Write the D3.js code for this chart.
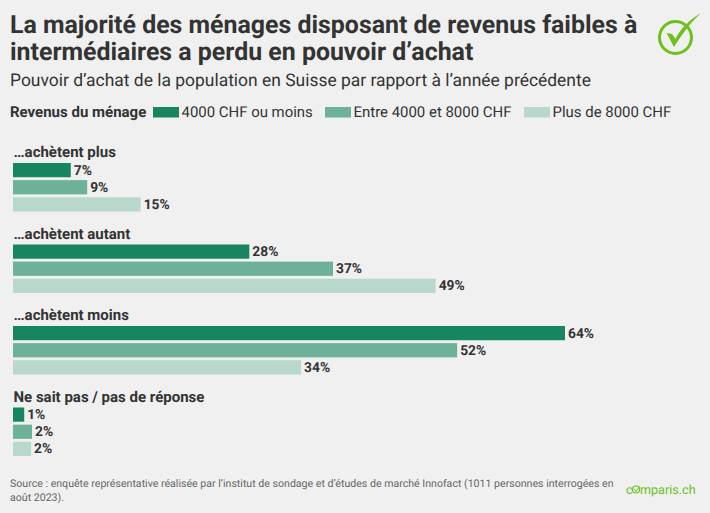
<!DOCTYPE html>
<html>
<head>
<meta charset="utf-8">
<script src="https://cdn.jsdelivr.net/npm/d3@7"></script>
<style>
body { margin: 0; background: #f0f0f0; }
text { font-family: Roboto, sans-serif; text-rendering: geometricPrecision; }
</style>
</head>
<body>
<div id="canvas"></div>
<script>
const categories = ["…achètent plus", "…achètent autant", "…achètent moins", "Ne sait pas / pas de réponse"];
const seriesNames = ["4000 CHF ou moins", "Entre 4000 et 8000 CHF", "Plus de 8000 CHF"];
const lowAll = [6.7, 27.4, 64, 1.3];
const midAll = [8.6, 37.1, 51.5, 2.2];
const highAll = [14.8, 49, 33.4, 2.1];
const labels = [[7, 9, 15], [28, 37, 49], [64, 52, 34], [1, 2, 2]];
const colors = ["#17855f", "#6cb198", "#b7d8ca"];

const width = 710;
const height = 513;
const svg = d3.select("#canvas").append("svg")
    .attr("width", width)
    .attr("height", height)
    .style("display", "block");

svg.append("rect").attr("width", width).attr("height", height).attr("fill", "#f0f0f0");

// titre
const title = svg.append("g").attr("fill", "#333333").attr("font-weight", 700).attr("font-size", 24.9);
title.append("text").attr("x", 10).attr("y", 33).text("La majorité des ménages disposant de revenus faibles à");
title.append("text").attr("x", 10).attr("y", 60).text("intermédiaires a perdu en pouvoir d’achat");
svg.append("text").attr("x", 10).attr("y", 86).attr("font-size", 17.45).attr("fill", "#333333")
    .text("Pouvoir d’achat de la population en Suisse par rapport à l’année précédente");

// legende
svg.append("text").attr("x", 10).attr("y", 117).attr("font-size", 15).attr("font-weight", 700).attr("fill", "#333333")
    .text("Revenus du ménage");
const legendX = [153, 325, 524];
seriesNames.forEach((name, i) => {
  svg.append("rect").attr("x", legendX[i]).attr("y", 107).attr("width", 26).attr("height", 10.5).attr("fill", colors[i]);
  svg.append("text").attr("x", legendX[i] + 28.5).attr("y", 117).attr("font-size", 14.95).attr("fill", "#333333").text(name);
});

// barres
const x = d3.scaleLinear().domain([0, 64]).range([13, 565]);
const yGroup = d3.scalePoint().domain(categories).range([146, 390.5]);
const ySeries = d3.scaleBand().domain(seriesNames).range([17, 65.5]).paddingInner(0.17).paddingOuter(0);
const values = [lowAll, midAll, highAll];

const groups = svg.selectAll("g.group").data(categories).enter().append("g")
    .attr("class", "group")
    .attr("transform", d => `translate(0,${yGroup(d)})`);

groups.append("text").attr("x", 13.5).attr("y", 11).attr("font-size", 15).attr("font-weight", 700).attr("fill", "#333333")
    .text(d => d);

groups.each(function (cat, c) {
  const g = d3.select(this);
  seriesNames.forEach((name, s) => {
    g.append("rect")
      .attr("x", x(0))
      .attr("y", ySeries(name))
      .attr("width", x(values[s][c]) - x(0))
      .attr("height", ySeries.bandwidth())
      .attr("fill", colors[s]);
    g.append("text")
      .attr("x", x(values[s][c]) + 3)
      .attr("y", ySeries(name) + ySeries.bandwidth() / 2 + 4.5)
      .attr("font-size", 13.8)
      .attr("font-weight", 700)
      .attr("fill", "#333333")
      .text(labels[c][s] + "%");
  });
});

// source
const source = svg.append("g").attr("font-size", 10.6).attr("fill", "#666666");
source.append("text").attr("x", 10).attr("y", 487).text("Source : enquête représentative réalisée par l’institut de sondage et d’études de marché Innofact (1011 personnes interrogées en");
source.append("text").attr("x", 10).attr("y", 501).text("août 2023).");

// logo comparis
const green = "#6cc11c";
svg.append("text").attr("x", 626).attr("y", 494).attr("font-size", 12.6).attr("fill", green).text("c");
svg.append("circle").attr("cx", 636).attr("cy", 489.5).attr("r", 3.5).attr("fill", "none").attr("stroke", green).attr("stroke-width", 1.2);
svg.append("path").attr("d", "M634 489 L636 491.5 L639.5 486.5").attr("fill", "none").attr("stroke", green).attr("stroke-width", 1);
svg.append("text").attr("x", 640).attr("y", 494).attr("font-size", 12.6).attr("fill", green).text("mparis.ch");

// logo coche
svg.append("circle").attr("cx", 675.5).attr("cy", 37.5).attr("r", 16).attr("fill", "none").attr("stroke", green).attr("stroke-width", 3);
svg.append("path").attr("d", "M666.5 33 L672 34 L675.5 39 C680 29 689 20 701 13 C691 22 682 34 674 47 Z").attr("fill", green);
</script>
</body>
</html>
